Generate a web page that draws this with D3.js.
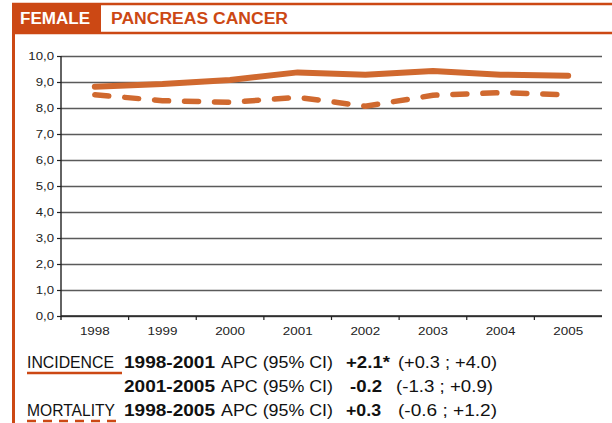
<!DOCTYPE html>
<html>
<head>
<meta charset="utf-8">
<script src="https://cdn.jsdelivr.net/npm/d3@7"></script>
<style>
  body { margin: 0; background: #fff; }
  svg { display: block; font-family: "Liberation Sans", Arial, Helvetica, sans-serif; }
</style>
</head>
<body>
<div id="canvas"></div>
<script>
const years = ["1998", "1999", "2000", "2001", "2002", "2003", "2004", "2005"];
const incidence = [8.82, 8.92, 9.08, 9.37, 9.28, 9.42, 9.28, 9.24];
const mortality = [8.51, 8.28, 8.22, 8.41, 8.07, 8.49, 8.59, 8.51];
const yTicks = [0, 1, 2, 3, 4, 5, 6, 7, 8, 9, 10];

const w = 612;
const h = 423;
const frameColor = "#cc4814";
const lineColor = "#d0692f";

const svg = d3.select("#canvas")
              .append("svg")
              .attr("width", w)
              .attr("height", h)

svg.append("rect")
   .attr("width", w)
   .attr("height", h)
   .attr("fill", "#fff")

//stretch text a bit wider, the source is a little wide
function stretch(sel, k){
  sel.each(function(){
    const len = this.getComputedTextLength();
    d3.select(this)
      .attr("textLength", len * k)
      .attr("lengthAdjust", "spacingAndGlyphs")
  })
}

//frame and header
svg.append("line")
   .attr("x1", 12).attr("x2", w)
   .attr("y1", 4).attr("y2", 4)
   .attr("stroke", frameColor)
   .attr("stroke-width", 2.5)

svg.append("line")
   .attr("x1", 12).attr("x2", w)
   .attr("y1", 33).attr("y2", 33)
   .attr("stroke", frameColor)
   .attr("stroke-width", 2.5)

svg.append("rect")
   .attr("x", 12).attr("y", 3)
   .attr("width", 89).attr("height", 30)
   .attr("fill", frameColor)

svg.append("rect")
   .attr("x", 12).attr("y", 3)
   .attr("width", 3).attr("height", h)
   .attr("fill", frameColor)

svg.append("text")
   .attr("x", 20).attr("y", 24)
   .attr("fill", "#fff")
   .style("font-size", "16px")
   .style("font-weight", "bold")
   .attr("textLength", 70)
   .attr("lengthAdjust", "spacingAndGlyphs")
   .text("FEMALE")

svg.append("text")
   .attr("x", 111).attr("y", 24)
   .attr("fill", frameColor)
   .style("font-size", "16px")
   .style("font-weight", "bold")
   .attr("textLength", 177)
   .attr("lengthAdjust", "spacingAndGlyphs")
   .text("PANCREAS CANCER")

//chart
const x = d3.scaleBand()
            .domain(years)
            .range([61, 602])

const y = d3.scaleLinear()
            .domain([0, 10])
            .range([316, 56])

const fmt = function(d){ return d3.format(".1f")(d).replace(".", ","); };

//gridlines
svg.append("g")
   .attr("transform", "translate(61,0)")
   .call(d3.axisLeft(y).tickValues(yTicks).tickSize(-(602 - 61)).tickFormat(""))
   .call(g => g.select(".domain").remove())
   .call(g => g.selectAll("line").attr("stroke", "#5a5a5a").attr("stroke-width", 1.3))

const yAxis = svg.append("g")
   .attr("transform", "translate(61,0)")
   .call(d3.axisLeft(y).tickValues(yTicks).tickSize(4).tickPadding(3).tickFormat(fmt))

yAxis.select(".domain")
     .attr("stroke", "#222")
     .attr("stroke-width", 1.4)
     .attr("d", "M0,56V320")
yAxis.selectAll("line").attr("stroke", "#222").attr("stroke-width", 1.2)
yAxis.selectAll("text")
     .attr("fill", "#222")
     .style("font-size", "11px")
     .style("font-family", "'Liberation Sans', Arial, sans-serif")
     .call(stretch, 1.2)

const xAxis = svg.append("g")
   .attr("transform", "translate(0,316)")
   .call(d3.axisBottom(x).tickSize(0).tickPadding(11))

xAxis.select(".domain")
     .attr("stroke", "#222")
     .attr("stroke-width", 1.4)
     .attr("d", "M61,0H602")
xAxis.selectAll("text")
     .attr("fill", "#222")
     .style("font-size", "11px")
     .style("font-family", "'Liberation Sans', Arial, sans-serif")
     .call(stretch, 1.22)

//small ticks between years
xAxis.selectAll(".sep")
     .data(years.slice(1))
     .enter()
     .append("line")
     .classed("sep", true)
     .attr("x1", d => x(d))
     .attr("x2", d => x(d))
     .attr("y1", 0)
     .attr("y2", 4)
     .attr("stroke", "#222")
     .attr("stroke-width", 1.2)

const line = d3.line()
               .x((d, i) => x(years[i]) + x.bandwidth() / 2)
               .y(d => y(d))

svg.append("path")
   .datum(incidence)
   .attr("d", line)
   .attr("fill", "none")
   .attr("stroke", lineColor)
   .attr("stroke-width", 6)
   .attr("stroke-linecap", "round")
   .attr("stroke-linejoin", "round")

svg.append("path")
   .datum(mortality)
   .attr("d", line)
   .attr("fill", "none")
   .attr("stroke", lineColor)
   .attr("stroke-width", 5.5)
   .attr("stroke-dasharray", "14,16")
   .attr("stroke-linecap", "round")
   .attr("stroke-linejoin", "round")

//trend notes under the chart
const notes = [
  {y: 368, parts: [
    {t: "INCIDENCE", x: 27, w: 87, b: false},
    {t: "1998-2001", x: 124, w: 91, b: true},
    {t: "APC (95% CI)", x: 221, w: 112, b: false},
    {t: "+2.1*", x: 346, w: 44, b: true},
    {t: "(+0.3 ; +4.0)", x: 398, w: 99, b: false}
  ]},
  {y: 392, parts: [
    {t: "2001-2005", x: 124, w: 91, b: true},
    {t: "APC (95% CI)", x: 221, w: 112, b: false},
    {t: "-0.2", x: 350, w: 32, b: true},
    {t: "(-1.3 ; +0.9)", x: 396, w: 97, b: false}
  ]},
  {y: 416, parts: [
    {t: "MORTALITY", x: 27, w: 88, b: false},
    {t: "1998-2005", x: 124, w: 91, b: true},
    {t: "APC (95% CI)", x: 221, w: 112, b: false},
    {t: "+0.3", x: 346, w: 35, b: true},
    {t: "(-0.6 ; +1.2)", x: 398, w: 99, b: false}
  ]}
];

notes.forEach(function(row){
  svg.append("g")
     .selectAll("text")
     .data(row.parts)
     .enter()
     .append("text")
     .attr("x", d => d.x)
     .attr("y", row.y)
     .attr("fill", "#111")
     .style("font-size", "16.5px")
     .style("font-weight", d => d.b ? "bold" : "normal")
     .attr("textLength", d => d.w)
     .attr("lengthAdjust", "spacingAndGlyphs")
     .text(d => d.t)
})

//legend keys drawn as underlines
svg.append("line")
   .attr("x1", 27).attr("x2", 122)
   .attr("y1", 373).attr("y2", 373)
   .attr("stroke", frameColor)
   .attr("stroke-width", 2.5)

svg.append("line")
   .attr("x1", 27).attr("x2", 122)
   .attr("y1", 421).attr("y2", 421)
   .attr("stroke", frameColor)
   .attr("stroke-width", 2.5)
   .attr("stroke-dasharray", "9,7")
</script>
</body>
</html>
